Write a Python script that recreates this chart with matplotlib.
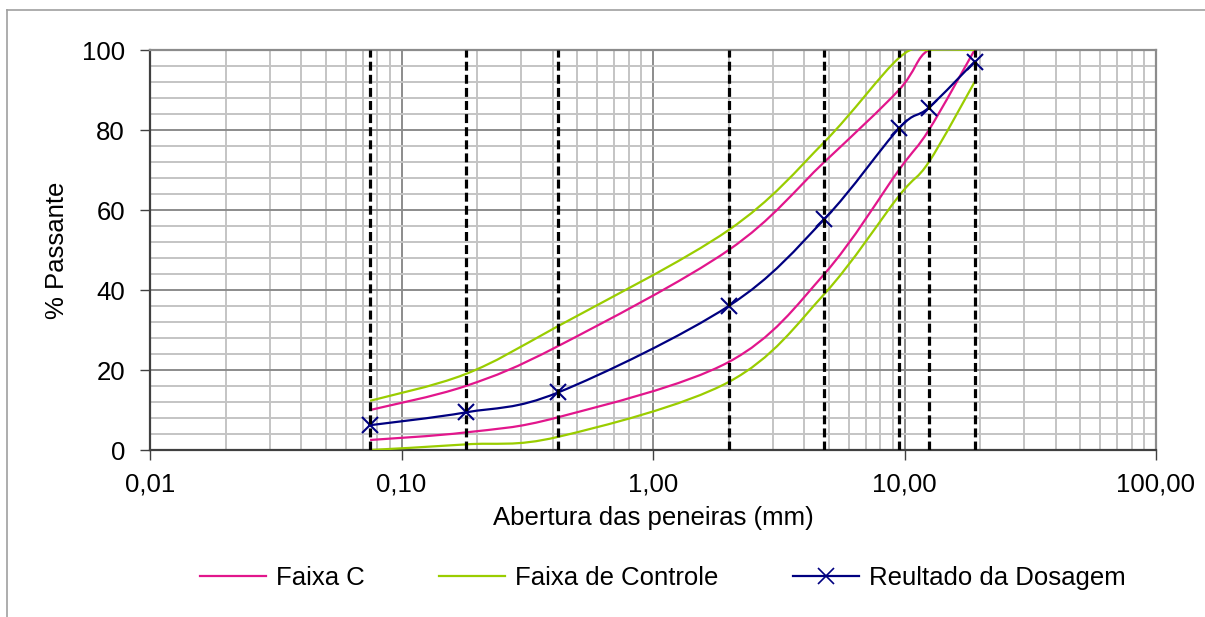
import matplotlib
matplotlib.use("Agg")
import matplotlib.pyplot as plt
import numpy as np
from matplotlib.path import Path
from matplotlib.patches import PathPatch
from matplotlib.lines import Line2D
from matplotlib.ticker import FixedLocator, FuncFormatter

plt.rcParams['font.family'] = ['Liberation Sans', 'DejaVu Sans']

# abertura das peneiras (mm) e % passante
peneiras = [0.075, 0.18, 0.42, 2.0, 4.8, 9.5, 12.5, 19.0]
faixa_c_sup = [10, 16, 26, 50, 72, 90, 100, 100]
faixa_c_inf = [2.5, 4.4, 8.2, 22, 44, 70, 80, 100]
controle_sup = [12.3, 19, 31, 55, 77, 98, 100, 100]
controle_inf = [0, 1.4, 3.3, 17, 39, 63.5, 72, 92]
dosagem = [6.2, 9.4, 14.4, 36, 57.7, 80.4, 85.6, 97.1]

x_ticks = [0.01, 0.1, 1, 10, 100]
y_ticks = [0, 20, 40, 60, 80, 100]

rosa = '#E2168C'
verde = '#9ACD00'
azul = '#000080'
fs = 18.5

fig = plt.figure(figsize=(12.05, 6.17), dpi=100)
ax = fig.add_axes([150/1205, 1-450/617, (1156-150)/1205, 400/617])
ax.set_xscale('log')
ax.set_xlim(0.01, 100)
ax.set_ylim(0, 100)


def curva_suave(xs, ys):
    # suavizacao estilo Excel: bezier com pontos de controle no espaco da tela
    u = np.log10(xs) * 251.5
    v = np.array(ys, dtype=float) * 4
    pts = list(zip(u, v))
    n = len(pts)
    verts = [pts[0]]
    codes = [Path.MOVETO]
    for i in range(n - 1):
        p0 = np.array(pts[max(i - 1, 0)])
        p1 = np.array(pts[i])
        p2 = np.array(pts[i + 1])
        p3 = np.array(pts[min(i + 2, n - 1)])
        c1 = p1 + (p2 - p0) / 6
        c2 = p2 - (p3 - p1) / 6
        verts += [tuple(c1), tuple(c2), tuple(p2)]
        codes += [Path.CURVE4] * 3
    verts = [(10 ** (a / 251.5), b / 4) for a, b in verts]
    return Path(verts, codes)


for ys, cor in [(faixa_c_sup, rosa), (faixa_c_inf, rosa),
                (controle_sup, verde), (controle_inf, verde),
                (dosagem, azul)]:
    ax.add_patch(PathPatch(curva_suave(peneiras, ys), fill=False,
                           edgecolor=cor, lw=1.6, zorder=3))

ax.plot(peneiras, dosagem, 'x', color=azul, ms=11, mew=1.5, zorder=4)

ax.vlines(peneiras, 0, 100, colors='black', lw=2.3,
          linestyles=(0, (2.8, 1.3)), zorder=5)

ax.xaxis.set_major_locator(FixedLocator(x_ticks))
ax.xaxis.set_minor_locator(FixedLocator(
    [m * 10.0 ** e for e in range(-2, 2) for m in range(2, 10)]))
ax.xaxis.set_major_formatter(FuncFormatter(lambda v, p: f'{v:.2f}'.replace('.', ',')))
ax.xaxis.set_minor_formatter(FuncFormatter(lambda v, p: ''))
ax.set_yticks(y_ticks)
ax.yaxis.set_minor_locator(FixedLocator(np.arange(0, 101, 4)))

ax.grid(which='major', color='#8c8c8c', lw=1.4)
ax.grid(which='minor', color='#c4c4c4', lw=1.4)
ax.set_axisbelow(True)
ax.tick_params(which='minor', length=0)
ax.tick_params(which='major', length=7, width=1, color='#404040',
               labelsize=fs)
ax.tick_params(axis='x', pad=9)
ax.tick_params(axis='y', pad=11)

for s in ['left', 'bottom']:
    ax.spines[s].set_color('#404040')
    ax.spines[s].set_linewidth(1.6)
for s in ['top', 'right']:
    ax.spines[s].set_color('#8c8c8c')
    ax.spines[s].set_linewidth(1.6)

ax.set_xlabel('Abertura das peneiras (mm)', fontsize=fs, labelpad=7)
ax.set_ylabel('% Passante', fontsize=fs, labelpad=9)

handles = [Line2D([], [], color=rosa, lw=1.6),
           Line2D([], [], color=verde, lw=1.6),
           Line2D([], [], color=azul, lw=1.6, marker='x', ms=11, mew=1.2)]
fig.legend(handles, ['Faixa C', 'Faixa de Controle', 'Reultado da Dosagem'],
           loc='center', bbox_to_anchor=(663/1205, 1-578/617), ncol=3,
           frameon=False, fontsize=fs, handlelength=2.55, handletextpad=0.4,
           columnspacing=2.9)

# moldura do grafico
fig.add_artist(Line2D([7/1205, 1], [1-10/617, 1-10/617], color='#a0a0a0', lw=1.2))
fig.add_artist(Line2D([7/1205, 7/1205], [0, 1-10/617], color='#a0a0a0', lw=1.2))

fig.savefig('out.png', dpi=100)
